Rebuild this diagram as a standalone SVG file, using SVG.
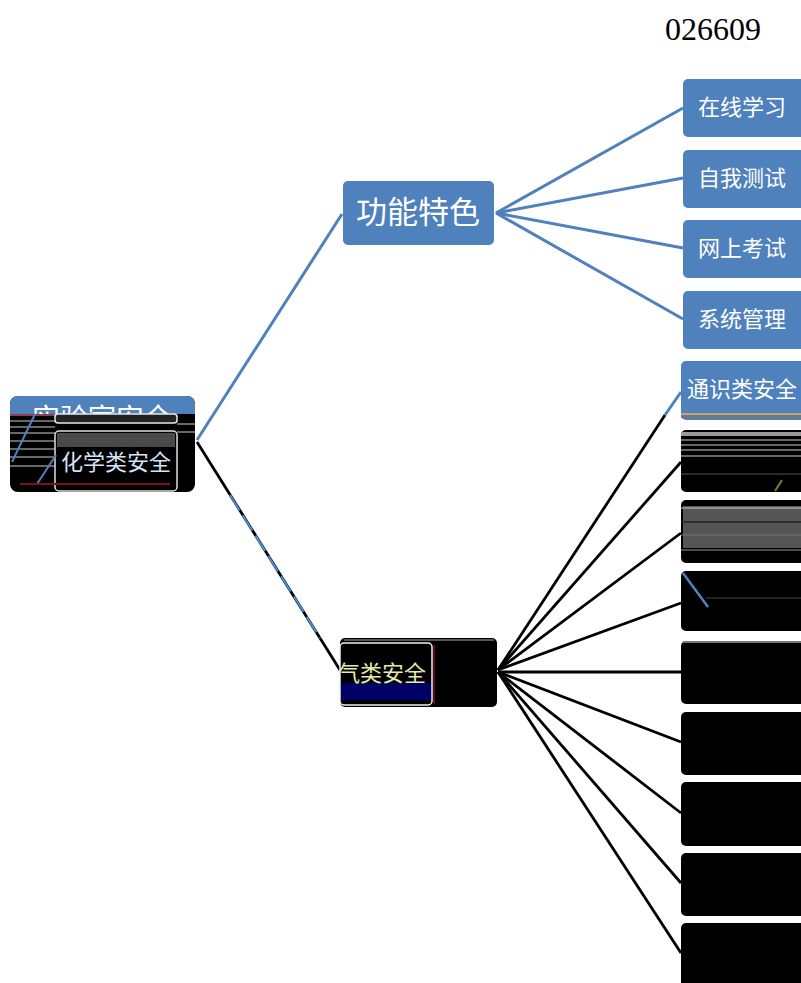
<svg xmlns="http://www.w3.org/2000/svg" width="801" height="983" viewBox="0 0 801 983">
<style>
.blue{fill:#4f81bd}
.blk{fill:#000}
.cj{font-family:"Noto Sans CJK SC","Noto Sans",sans-serif;text-anchor:middle}
.wt{fill:#fff}
.cb{stroke:#4f81bd;stroke-width:3;fill:none}
.ck{stroke:#000;stroke-width:2.8;fill:none}
.st{stroke:#8a8a8a;stroke-width:1.5}
</style>
<defs>
<clipPath id="rootTop"><rect x="10" y="396" width="185" height="18"/></clipPath>
<clipPath id="eClip"><rect x="340" y="640" width="92" height="66"/></clipPath>
</defs>
<rect width="801" height="983" fill="#fff"/>
<text x="665" y="40" font-family="Liberation Serif,serif" font-size="32" fill="#000">026609</text>

<g id="connectors">
  <line class="cb" x1="197" y1="440" x2="342" y2="214"/>
  <line class="ck" x1="197" y1="442" x2="340" y2="670"/>
  <line x1="230" y1="495" x2="320" y2="638" stroke="#4a90d9" stroke-width="2" stroke-dasharray="18 6"/>
  <line class="cb" x1="496" y1="213" x2="683" y2="108"/>
  <line class="cb" x1="496" y1="213" x2="683" y2="178"/>
  <line class="cb" x1="496" y1="213" x2="683" y2="248"/>
  <line class="cb" x1="496" y1="213" x2="683" y2="319"/>
  <line class="ck" x1="498" y1="670" x2="665" y2="415"/>
  <line class="cb" x1="665" y1="415" x2="681" y2="392"/>
  <line class="ck" x1="498" y1="670" x2="681" y2="462"/>
  <line class="ck" x1="498" y1="670" x2="681" y2="533"/>
  <line class="ck" x1="498" y1="670" x2="681" y2="603"/>
  <line class="ck" x1="498" y1="672" x2="681" y2="672"/>
  <line class="ck" x1="498" y1="672" x2="681" y2="742"/>
  <line class="ck" x1="498" y1="672" x2="681" y2="813"/>
  <line class="ck" x1="498" y1="672" x2="681" y2="883"/>
  <line class="ck" x1="498" y1="672" x2="681" y2="953"/>
</g>

<g id="root">
  <rect x="10" y="396" width="185" height="96" rx="8" class="blk"/>
  <path d="M10 414 V404 a8 8 0 0 1 8 -8 H187 a8 8 0 0 1 8 8 V414 Z" class="blue"/>
  <text x="102" y="429" font-size="28" class="cj wt" clip-path="url(#rootTop)">实验室安全</text>
  <line x1="10" y1="415" x2="90" y2="415" stroke="#c0506a" stroke-width="1.5"/>
  <line x1="10" y1="421" x2="55" y2="421" class="st"/>
  <line x1="10" y1="427" x2="55" y2="427" class="st"/>
  <line x1="10" y1="433" x2="55" y2="433" class="st"/>
  <line x1="10" y1="441" x2="55" y2="441" class="st"/>
  <line x1="10" y1="449" x2="55" y2="449" class="st"/>
  <line x1="10" y1="457" x2="55" y2="457" class="st"/>
  <line x1="10" y1="466" x2="55" y2="466" class="st"/>
  <line x1="177" y1="424" x2="195" y2="424" class="st"/>
  <line x1="177" y1="432" x2="195" y2="432" class="st"/>
  <rect x="55" y="414" width="122" height="9" rx="3" fill="#222" stroke="#e8e8e8" stroke-width="1.5"/>
  <rect x="55" y="431" width="122" height="60" rx="4" fill="#000" stroke="#e0e0e0" stroke-width="1.5"/>
  <rect x="57" y="433" width="118" height="14" fill="#4a4a4a"/>
  <line x1="12" y1="462" x2="35" y2="414" stroke="#4f81bd" stroke-width="2"/>
  <line x1="37" y1="484" x2="56" y2="455" stroke="#4f81bd" stroke-width="2"/>
  <line x1="20" y1="484" x2="170" y2="484" stroke="#7a1020" stroke-width="2"/>
  <text x="116" y="470" font-size="22" class="cj" fill="#d6e4f5">化学类安全</text>
</g>

<g id="func">
  <rect x="343" y="181" width="151" height="64" rx="5" class="blue"/>
  <text x="418" y="223" font-size="31" class="cj wt">功能特色</text>
</g>

<g id="n1"><rect x="683" y="79" width="130" height="58" rx="5" class="blue"/><text x="742" y="115" font-size="22" class="cj wt">在线学习</text></g>
<g id="n2"><rect x="683" y="150" width="130" height="58" rx="5" class="blue"/><text x="742" y="186" font-size="22" class="cj wt">自我测试</text></g>
<g id="n3"><rect x="683" y="220" width="130" height="58" rx="5" class="blue"/><text x="742" y="256" font-size="22" class="cj wt">网上考试</text></g>
<g id="n4"><rect x="683" y="291" width="130" height="58" rx="5" class="blue"/><text x="742" y="327" font-size="22" class="cj wt">系统管理</text></g>

<g id="n5">
  <rect x="681" y="361" width="130" height="59" rx="5" class="blue"/>
  <text x="742" y="397" font-size="22" class="cj wt">通识类安全</text>
  <rect x="681" y="412" width="120" height="6" fill="#777"/>
  <line x1="681" y1="414" x2="801" y2="414" stroke="#ddd" stroke-width="1"/>
</g>

<g id="elec">
  <rect x="340" y="638" width="157" height="69" rx="5" class="blk"/>
  <line x1="344" y1="640" x2="494" y2="640" stroke="#555" stroke-width="2"/>
  <rect x="340" y="643" width="92" height="62" rx="4" fill="#000" stroke="#f0f0f0" stroke-width="1.5"/>
  <rect x="341" y="683" width="90" height="17" fill="#000066"/>
  <line x1="434" y1="645" x2="434" y2="704" stroke="#c01030" stroke-width="1"/>
  <text x="338" y="681" font-size="22" font-family="Noto Sans CJK SC,sans-serif" fill="#e3eca8" clip-path="url(#eClip)">气类安全</text>
</g>

<g id="b2">
  <rect x="681" y="430" width="130" height="62" rx="5" class="blk"/>
  <rect x="681" y="432" width="120" height="4" fill="#999"/>
  <line x1="681" y1="440" x2="801" y2="440" class="st"/>
  <line x1="681" y1="445" x2="801" y2="445" class="st"/>
  <line x1="681" y1="450" x2="801" y2="450" class="st"/>
  <line x1="681" y1="456" x2="801" y2="456" class="st"/>
  <line x1="681" y1="474" x2="801" y2="474" stroke="#555" stroke-width="1"/>
  <line x1="775" y1="491" x2="782" y2="480" stroke="#6a8a30" stroke-width="2"/>
</g>
<g id="b3">
  <rect x="681" y="500" width="130" height="63" rx="5" class="blk"/>
  <rect x="683" y="506" width="118" height="42" fill="#555"/>
  <line x1="681" y1="508" x2="801" y2="508" stroke="#ccc" stroke-width="1"/>
  <line x1="681" y1="522" x2="801" y2="522" stroke="#222" stroke-width="1.5"/>
  <line x1="681" y1="535" x2="801" y2="535" stroke="#777" stroke-width="1"/>
  <line x1="681" y1="550" x2="801" y2="550" stroke="#666" stroke-width="1.5"/>
</g>
<g id="b4">
  <rect x="681" y="571" width="130" height="60" rx="5" class="blk"/>
  <line x1="683" y1="573" x2="708" y2="607" stroke="#4f81bd" stroke-width="2.5"/>
  <line x1="705" y1="598" x2="801" y2="598" stroke="#444" stroke-width="1"/>
</g>
<g id="b5"><rect x="681" y="641" width="130" height="63" rx="5" class="blk"/><line x1="683" y1="642" x2="801" y2="642" stroke="#777" stroke-width="2"/></g>
<g id="b6"><rect x="681" y="712" width="130" height="63" rx="5" class="blk"/></g>
<g id="b7"><rect x="681" y="782" width="130" height="64" rx="5" class="blk"/></g>
<g id="b8"><rect x="681" y="853" width="130" height="63" rx="5" class="blk"/></g>
<g id="b9"><rect x="681" y="923" width="130" height="70" rx="5" class="blk"/></g>
</svg>
